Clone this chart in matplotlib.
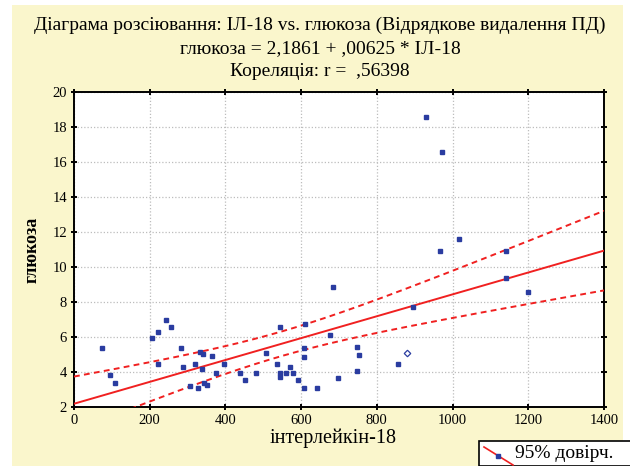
import numpy as np
import matplotlib
matplotlib.use("Agg")
import matplotlib.pyplot as plt
from matplotlib.patches import Rectangle
from matplotlib.lines import Line2D

# ---- data ----
il18 = [73, 95, 108, 205, 221, 243, 256, 221, 283, 287, 306, 320, 327, 333, 340,
        337, 344, 350, 364, 375, 397, 438, 452, 481, 507, 537, 544, 544, 544, 559,
        570, 579, 592, 608, 610, 608, 608, 643, 676, 683, 698, 747, 754, 747, 930,
        973, 967, 1016, 1141, 1141, 1199, 895, 857]
glucose = [5.35, 3.83, 3.39, 5.96, 6.27, 7.0, 6.59, 4.44, 5.35, 4.3, 3.2, 4.44, 3.07,
           5.16, 5.03, 4.15, 3.35, 3.26, 4.91, 3.96, 4.44, 3.93, 3.54, 3.96, 5.07, 4.44,
           6.59, 3.96, 3.73, 3.96, 4.3, 3.96, 3.54, 3.07, 6.72, 5.35, 4.88, 3.07, 6.1,
           8.87, 3.68, 5.45, 5.0, 4.06, 18.59, 16.59, 10.93, 11.58, 10.93, 9.35, 8.55,
           7.73, 4.44]
special_x = [880]
special_y = [5.07]

intercept = 2.1861
slope = 0.00625

x_ticks = [0, 200, 400, 600, 800, 1000, 1200, 1400]
y_ticks = [2, 4, 6, 8, 10, 12, 14, 16, 18, 20]

title_lines = ["Діаграма розсіювання: ІЛ-18 vs. глюкоза (Відрядкове видалення ПД)",
               "глюкоза = 2,1861 + ,00625 * ІЛ-18",
               "Кореляція: r =  ,56398"]
xlabel = "інтерлейкін-18"
ylabel = "глюкоза"
legend_text = "95% довірч."

# ---- figure ----
W, H = 630, 466
fig = plt.figure(figsize=(W / 100, H / 100), dpi=100)
fig.patch.set_facecolor("white")
bg = "#faf6cc"
fig.patches.append(Rectangle((12 / W, 0), (623 - 12) / W, (H - 5) / H,
                             transform=fig.transFigure, facecolor=bg,
                             edgecolor="none", zorder=-10))

SERIF = ["Liberation Serif", "DejaVu Serif"]

ax = fig.add_axes([74 / W, 1 - 407 / H, (604 - 74) / W, (407 - 92) / H])
ax.set_facecolor("white")

# confidence band computed from the data
xa = np.array(il18 + special_x, dtype=float)
ya = np.array(glucose + special_y, dtype=float)
n = len(xa)
resid = ya - (intercept + slope * xa)
s = np.sqrt(np.sum(resid ** 2) / (n - 2))
xbar = xa.mean()
sxx = np.sum((xa - xbar) ** 2)
tval = 2.007
xx = np.linspace(0, 1400, 300)
yy = intercept + slope * xx
hw = tval * s * np.sqrt(1 / n + (xx - xbar) ** 2 / sxx)

red = "#f02020"
ax.plot(xx, yy, color=red, lw=1.4, zorder=3, clip_on=True)
ax.plot(xx, yy + hw, color=red, lw=1.4, ls=(0, (3, 2.2)), zorder=3)
ax.plot(xx, yy - hw, color=red, lw=1.4, ls=(0, (3, 2.2)), zorder=3)

blue = "#2a3ca0"
ax.plot(il18, glucose, ls="none", marker="s", ms=2.2, color=blue, mec=blue, zorder=4)
ax.plot(special_x, special_y, ls="none", marker="D", ms=3.3, mfc="white", mec=blue,
        mew=0.9, zorder=4)

ax.set_xlim(0, 1400)
ax.set_ylim(2, 20)
ax.set_xticks(x_ticks)
ax.set_yticks(y_ticks)
ax.set_xticklabels([str(v) for v in x_ticks], family=SERIF, fontsize=10.5)
ax.set_yticklabels([str(v) for v in y_ticks], family=SERIF, fontsize=10.5)
ax.tick_params(direction="inout", length=4, width=1.4, color="black",
               top=True, right=True, pad=3)
ax.grid(True, color="#bdbdbd", lw=0.9, ls=(0, (1, 1.6)))
ax.set_axisbelow(True)
for sp in ax.spines.values():
    sp.set_linewidth(1.4)
    sp.set_color("black")

fig.text(32 / W, 1 - 250 / H, ylabel, rotation=90, ha="center", va="center",
         family=SERIF, fontsize=13, fontweight="bold")
fig.text(333 / W, 1 - 438 / H, xlabel, ha="center", va="center",
         family=SERIF, fontsize=14.5)

ys = [25, 48.5, 72]
for t, yp in zip(title_lines, ys):
    fig.text(320 / W, 1 - yp / H, t, ha="center", va="center",
             family=SERIF, fontsize=14)

# legend box
fig.patches.append(Rectangle((479 / W, 0), (640 - 479) / W, (H - 441) / H,
                             transform=fig.transFigure, facecolor="white",
                             edgecolor="black", lw=1.2, zorder=5))
fig.lines.append(Line2D([484 / W, 513 / W], [1 - 447 / H, 1 - 465 / H],
                        transform=fig.transFigure, color=red, lw=1.2, zorder=6))
fig.lines.append(Line2D([498 / W], [1 - 456 / H], transform=fig.transFigure,
                        marker="s", ms=2.4, color=blue, ls="none", zorder=7))
fig.text(515 / W, 1 - 454 / H, legend_text, ha="left", va="center",
         family=SERIF, fontsize=14, zorder=8)

fig.savefig("out.png", dpi=100, facecolor=fig.get_facecolor())
